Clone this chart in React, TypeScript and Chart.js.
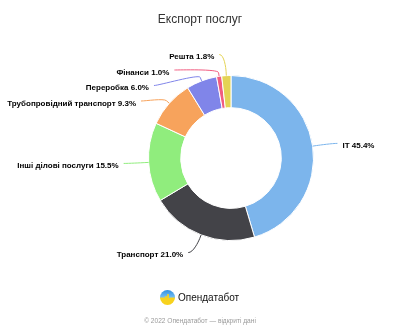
import React, { useEffect, useRef } from 'react';
import { Chart, registerables } from 'chart.js';

Chart.register(...registerables);

const TITLE = 'Експорт послуг';
const categories = [
  'IT',
  'Транспорт',
  'Інші ділові послуги',
  'Трубопровідний транспорт',
  'Переробка',
  'Фінанси',
  'Решта',
];
const shares = [45.4, 21.0, 15.5, 9.3, 6.0, 1.0, 1.8];
const colors = ['#7cb5ec', '#434348', '#90ed7d', '#f7a35c', '#8085e9', '#f15c80', '#e4d354'];
const BRAND = 'Опендатабот';
const FOOTER = '© 2022 Опендатабот — відкриті дані';

const FONT = '"Liberation Sans", Arial, Helvetica, sans-serif';

// Highcharts-like outside labels with soft connectors
const pieLabels = {
  id: 'pieLabels',
  afterDatasetsDraw(chart: any, _args: any, opts: any) {
    const meta = chart.getDatasetMeta(0);
    const ctx = chart.ctx as CanvasRenderingContext2D;
    const dist = opts.distance;
    const pad = opts.padding;
    const S = opts.spacing;
    const items = meta.data.map((arc: any, i: number) => {
      const p = arc.getProps(['x', 'y', 'startAngle', 'endAngle', 'outerRadius'], true);
      const a = (p.startAngle + p.endAngle) / 2;
      const r = p.outerRadius;
      const Rl = r + dist;
      const c = Math.cos(a);
      const s = Math.sin(a);
      const off = dist / 5;
      return {
        i,
        cx: p.x,
        cy: p.y,
        Rl,
        left: c < 0,
        naturalY: p.y + Rl * s,
        tx: p.x + r * c,
        ty: p.y + r * s,
        bx: p.x + (r + off) * c,
        by: p.y + (r + off) * s,
        y: 0,
        x: 0,
        useNatural: false,
      };
    });
    if (!items.length) return;
    const cy = items[0].cy;
    const Rl0 = items[0].Rl;
    const top = cy - Rl0 - 2;
    const bottom = cy + Rl0 + 2;

    [true, false].forEach((side) => {
      const list = items.filter((it: any) => it.left === side).sort((a: any, b: any) => a.naturalY - b.naturalY);
      const groups = list.map((it: any) => ({ members: [it], y0: it.naturalY }));
      const place = (g: any) => {
        const n = g.members.length;
        const mean = g.members.reduce((acc: number, m: any) => acc + m.naturalY, 0) / n;
        let y0 = mean - ((n - 1) * S) / 2;
        y0 = Math.max(top, Math.min(bottom - (n - 1) * S, y0));
        g.y0 = y0;
      };
      groups.forEach(place);
      let changed = true;
      while (changed) {
        changed = false;
        for (let k = 1; k < groups.length; k++) {
          const prev = groups[k - 1];
          const cur = groups[k];
          if (prev.y0 + prev.members.length * S > cur.y0) {
            prev.members = prev.members.concat(cur.members);
            place(prev);
            groups.splice(k, 1);
            changed = true;
            break;
          }
        }
      }
      groups.forEach((g: any) => {
        g.members.forEach((m: any, j: number) => {
          m.y = g.y0 + j * S;
          m.useNatural = m.y < top + 2 || m.y > bottom - 2;
        });
      });
    });

    const getX = (it: any, y: number) => {
      const ang = Math.asin(Math.max(-1, Math.min(1, (y - it.cy) / it.Rl)));
      return it.cx + (it.left ? -1 : 1) * (Math.cos(ang) * it.Rl + pad);
    };

    ctx.save();
    items.forEach((it: any) => {
      it.x = getX(it, it.useNatural ? it.naturalY : it.y);
      const col = colors[it.i % colors.length];
      ctx.beginPath();
      ctx.moveTo(it.x, it.y);
      ctx.bezierCurveTo(
        it.x + (it.left ? 5 : -5),
        it.y,
        2 * it.bx - it.tx,
        2 * it.by - it.ty,
        it.bx,
        it.by
      );
      ctx.lineTo(it.tx, it.ty);
      ctx.strokeStyle = col;
      ctx.lineWidth = 1;
      ctx.stroke();

      const text = `${categories[it.i]} ${shares[it.i].toFixed(1)}%`;
      ctx.font = opts.font;
      ctx.fillStyle = opts.color;
      ctx.textBaseline = 'middle';
      ctx.textAlign = it.left ? 'right' : 'left';
      ctx.fillText(text, it.x + (it.left ? -5 : 5), it.y + opts.textDy);
    });
    ctx.restore();
  },
};

function Logo() {
  return (
    <svg width="15" height="15" viewBox="0 0 30 30" style={{ display: 'block' }}>
      <defs>
        <clipPath id="lc">
          <circle cx="15" cy="15" r="15" />
        </clipPath>
        <linearGradient id="lb" x1="0" y1="0" x2="0" y2="1">
          <stop offset="0" stopColor="#2f8fe0" />
          <stop offset="1" stopColor="#7cc3f5" />
        </linearGradient>
      </defs>
      <g clipPath="url(#lc)">
        <rect x="0" y="0" width="30" height="16" fill="url(#lb)" />
        <rect x="0" y="16" width="30" height="14" fill="#f7d21e" />
        <path d="M0 16 L10 16 L12 12 L14 20 L16 8 L18 18 L20 16 L30 16" stroke="#f7d21e" strokeWidth="2" fill="none" />
      </g>
    </svg>
  );
}

export default function App() {
  const ref = useRef<HTMLCanvasElement | null>(null);

  useEffect(() => {
    if (!ref.current) return;
    const chart = new Chart(ref.current, {
      type: 'doughnut',
      data: {
        labels: categories,
        datasets: [
          {
            data: shares,
            backgroundColor: colors,
            borderColor: '#ffffff',
            borderWidth: 1,
            hoverOffset: 0,
          },
        ],
      },
      options: {
        responsive: false,
        animation: false,
        devicePixelRatio: 1,
        cutout: '61%',
        layout: { padding: { left: 148, right: 86, top: 75, bottom: 92 } },
        plugins: {
          legend: { display: false },
          tooltip: { enabled: false },
          title: { display: false },
          pieLabels: {
            distance: 19,
            padding: 6,
            spacing: 15.5,
            textDy: 2.3,
            font: `bold 8px ${FONT}`,
            color: '#000000',
          },
        } as any,
      },
      plugins: [pieLabels as any],
    });
    return () => chart.destroy();
  }, []);

  return (
    <div
      style={{
        position: 'absolute',
        left: 0,
        top: 0,
        width: 400,
        height: 333,
        background: '#ffffff',
        fontFamily: FONT,
        overflow: 'hidden',
      }}
    >
      <canvas ref={ref} width={400} height={333} style={{ position: 'absolute', left: 0, top: 0 }} />
      <div
        style={{
          position: 'absolute',
          left: 0,
          top: 12,
          width: 400,
          textAlign: 'center',
          fontSize: 12,
          lineHeight: '14px',
          color: '#333333',
        }}
      >
        {TITLE}
      </div>
      <div
        style={{
          position: 'absolute',
          left: 160,
          top: 290,
          height: 15,
          display: 'flex',
          alignItems: 'center',
          gap: 3,
        }}
      >
        <Logo />
        <span style={{ fontSize: 10, fontWeight: 500, color: '#111111', lineHeight: '15px' }}>{BRAND}</span>
      </div>
      <div
        style={{
          position: 'absolute',
          left: 0,
          top: 316,
          width: 400,
          textAlign: 'center',
          fontSize: 6.6,
          lineHeight: '10px',
          color: '#9a9a9a',
        }}
      >
        {FOOTER}
      </div>
    </div>
  );
}
